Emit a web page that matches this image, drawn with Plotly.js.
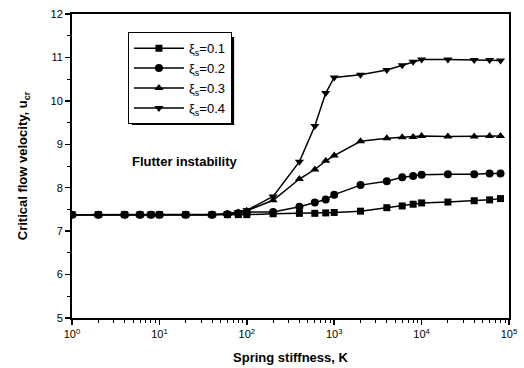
<!DOCTYPE html>
<html><head><meta charset="utf-8">
<script src="https://cdn.plot.ly/plotly-3.0.1.min.js"></script>
<style>html,body{margin:0;padding:0;background:#fff;}#chart{width:524px;height:368px;}</style>
</head><body><div id="chart"></div>
<script>
const K = [1,2,4,6,8,10,20,40,60,80,100,200,400,600,800,1000,2000,4000,6000,8000,10000,20000,40000,60000,80000];
const u01 = [7.38,7.38,7.38,7.38,7.38,7.38,7.38,7.38,7.38,7.38,7.38,7.40,7.41,7.41,7.42,7.43,7.46,7.54,7.58,7.62,7.65,7.67,7.70,7.72,7.75];
const u02 = [7.38,7.38,7.38,7.38,7.38,7.38,7.38,7.38,7.39,7.41,7.44,7.44,7.56,7.66,7.73,7.84,8.06,8.15,8.24,8.27,8.30,8.31,8.31,8.33,8.33];
const u03 = [7.38,7.38,7.38,7.38,7.38,7.38,7.38,7.38,7.40,7.43,7.47,7.71,8.20,8.42,8.62,8.74,9.07,9.14,9.16,9.17,9.19,9.18,9.18,9.19,9.19];
const u04 = [7.38,7.38,7.38,7.38,7.38,7.38,7.38,7.38,7.40,7.44,7.48,7.80,8.60,9.42,10.18,10.54,10.60,10.71,10.82,10.90,10.95,10.95,10.94,10.94,10.93];
const names = ['ξ<sub>s</sub>=0.1','ξ<sub>s</sub>=0.2','ξ<sub>s</sub>=0.3','ξ<sub>s</sub>=0.4'];
const series = [u01,u02,u03,u04];
const symbols = ['square','circle','triangle-up','triangle-down'];
const xTickVals = [1,10,100,1000,10000,100000];
const xTickText = ['10<sup>0</sup>','10<sup>1</sup>','10<sup>2</sup>','10<sup>3</sup>','10<sup>4</sup>','10<sup>5</sup>'];
const yTickVals = [5,6,7,8,9,10,11,12];

const F = 'Arial, "Liberation Sans", sans-serif';
const traces = series.map((s,i)=>({
  x: K, y: s, name: names[i], type:'scatter', mode:'lines+markers',
  line:{color:'#000', width:1.5},
  marker:{symbol:symbols[i], size: i===0?7:8, color:'#000'}
}));

const layout = {
  width:524, height:368,
  margin:{l:72, r:15, t:14, b:50},
  paper_bgcolor:'#fff', plot_bgcolor:'#fff',
  showlegend:true,
  font:{family:F, color:'#000'},
  xaxis:{
    type:'log', range:[0,5], tickvals:xTickVals, ticktext:xTickText,
    ticks:'outside', ticklen:5, tickwidth:1.5, tickcolor:'#000',
    minor:{ticks:'outside', ticklen:3, tickwidth:1, tickcolor:'#000', dtick:'D1', showgrid:false},
    showline:true, linecolor:'#000', linewidth:2, mirror:true,
    showgrid:false, zeroline:false,
    tickfont:{family:F, size:11, color:'#000'},
    title:{text:'<b>Spring stiffness, K</b>', font:{family:F, size:13, color:'#000'}, standoff:14}
  },
  yaxis:{
    range:[5,12], tickvals:yTickVals,
    ticks:'outside', ticklen:5, tickwidth:1.5, tickcolor:'#000',
    minor:{ticks:'outside', ticklen:3, tickwidth:1, tickcolor:'#000', dtick:0.5, showgrid:false},
    showline:true, linecolor:'#000', linewidth:2, mirror:true,
    showgrid:false, zeroline:false,
    tickfont:{family:F, size:11, color:'#000'},
    title:{text:'<b>Critical flow velocity, u<sub>cr</sub></b>', font:{family:F, size:13, color:'#000'}, standoff:20}
  },
  legend:{
    x:0.128, y:0.94, xanchor:'left', yanchor:'top',
    bgcolor:'#fff', bordercolor:'#000', borderwidth:1,
    font:{family:F, size:13, color:'#000'},
    tracegroupgap:0, itemwidth:50
  },
  shapes:[{
    type:'rect', xref:'paper', yref:'paper',
    x0:0.137, x1:0.371, y0:0.635, y1:0.924,
    fillcolor:'#000', line:{width:0}, layer:'above'
  }],
  annotations:[{
    xref:'paper', yref:'paper', x:0.259, y:0.516, xanchor:'center', yanchor:'middle',
    text:'<b>Flutter instability</b>', showarrow:false,
    font:{family:F, size:13, color:'#000'}
  }]
};
Plotly.newPlot('chart', traces, layout, {displayModeBar:false, staticPlot:true});
</script>
</body></html>
